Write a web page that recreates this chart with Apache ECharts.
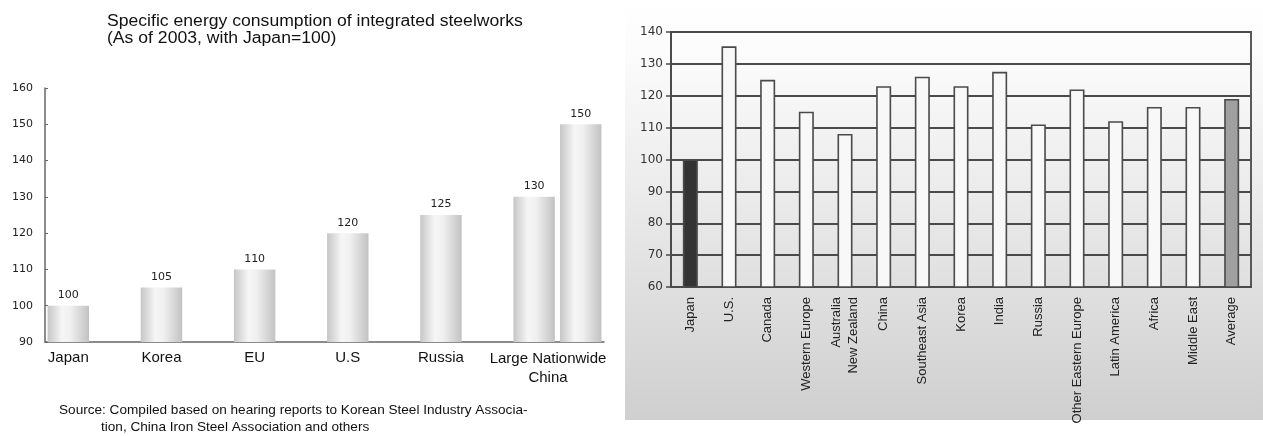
<!DOCTYPE html>
<html>
<head>
<meta charset="utf-8">
<script src="https://cdn.jsdelivr.net/npm/echarts@6/dist/echarts.min.js"></script>
<style>
  html, body { margin: 0; padding: 0; background: #ffffff; }
  #chart { width: 1263px; height: 436px; }
</style>
</head>
<body>
<div id="chart"></div>
<script>
// Left panel: specific energy consumption of integrated steelworks (Japan = 100)
const leftCategories = ['Japan', '', 'Korea', '', 'EU', '', 'U.S', '', 'Russia', '', 'Large', 'Nationwide'];
const leftValues = [100, '-', 105, '-', 110, '-', 120, '-', 125, '-', 130, 150];
const leftTicks = { min: 90, max: 160, step: 10 };

// Right panel: energy consumption index by region (Japan = 100)
const rightCategories = ['Japan', 'U.S.', 'Canada', 'Western Europe', 'Australia\nNew Zealand', 'China',
  'Southeast Asia', 'Korea', 'India', 'Russia', 'Other Eastern Europe', 'Latin America', 'Africa',
  'Middle East', 'Average'];
const rightValues = [100, 135.5, 125, 115, 108, 123, 126, 123, 127.5, 111, 122, 112, 116.5, 116.5, 119];
const rightTicks = { min: 60, max: 140, step: 10 };

const chart = echarts.init(document.getElementById('chart'), null, { renderer: 'canvas' });

const sans = 'Liberation Sans, Arial, sans-serif';
const digits = 'DejaVu Sans, sans-serif';

// Bar fill for the left panel: rounded, cylinder-like shading
const cylinder = new echarts.graphic.LinearGradient(0, 0, 1, 0, [
  { offset: 0, color: '#c6c6c6' },
  { offset: 0.35, color: '#f6f6f6' },
  { offset: 0.55, color: '#f0f0f0' },
  { offset: 1, color: '#c2c2c2' }
]);

const specialFill = { 'Japan': '#333333', 'Average': '#a0a0a0' };
const rightData = rightValues.map((v, i) => ({
  value: v,
  itemStyle: { color: specialFill[rightCategories[i]] || '#f8f8f8' }
}));

const option = {
  animation: false,
  graphic: [
    {
      type: 'rect',
      left: 625, top: 0, z: -10,
      shape: { width: 638, height: 420 },
      style: {
        fill: new echarts.graphic.LinearGradient(0, 0, 0, 1, [
          { offset: 0, color: '#ffffff' },
          { offset: 0.14, color: '#fbfbfb' },
          { offset: 0.5, color: '#e9e9e9' },
          { offset: 1, color: '#cfcfcf' }
        ])
      }
    },
    {
      type: 'text', x: 107, y: 13, scaleX: 1.1,
      style: {
        text: 'Specific energy consumption of integrated steelworks\n(As of 2003, with Japan=100)',
        font: '16px ' + sans, fill: '#111', lineHeight: 17
      }
    },
    {
      type: 'text', x: 548, y: 349,
      style: {
        text: 'Large Nationwide\nChina', font: '15px ' + sans, fill: '#111',
        textAlign: 'center', lineHeight: 19
      }
    },
    {
      type: 'text', x: 59, y: 410,
      style: {
        text: 'Source: Compiled based on hearing reports to Korean Steel Industry Associa-',
        font: '13.6px ' + sans, fill: '#111', textVerticalAlign: 'middle'
      }
    },
    {
      type: 'text', x: 101, y: 427,
      style: {
        text: 'tion, China Iron Steel Association and others',
        font: '13.6px ' + sans, fill: '#111', textVerticalAlign: 'middle'
      }
    }
  ],
  grid: [
    { left: 45, top: 88, width: 559, height: 254, containLabel: false },
    { left: 671, top: 32, width: 580, height: 255, containLabel: false,
      show: true, borderColor: '#4a4a4a', borderWidth: 1.8, backgroundColor: 'transparent' }
  ],
  xAxis: [
    {
      type: 'category', gridIndex: 0, data: leftCategories,
      axisLine: { lineStyle: { color: '#666', width: 1.5 } },
      axisTick: { length: 3, lineStyle: { color: '#666' } },
      axisLabel: {
        interval: 0, margin: 8, color: '#111', fontFamily: sans, fontSize: 15,
        formatter: (name) => (name === 'Large' || name === 'Nationwide') ? '' : name
      }
    },
    {
      type: 'category', gridIndex: 1, data: rightCategories,
      axisLine: { lineStyle: { color: '#4a4a4a', width: 1.8 } },
      axisTick: { length: 4, lineStyle: { color: '#4a4a4a', width: 1.5 } },
      axisLabel: {
        interval: 0, rotate: 90, margin: 10, color: '#222', fontFamily: sans, fontSize: 13,
        lineHeight: 17
      }
    }
  ],
  yAxis: [
    {
      type: 'value', gridIndex: 0, min: leftTicks.min, max: leftTicks.max, interval: leftTicks.step,
      axisLine: { show: true, lineStyle: { color: '#666', width: 1.5 } },
      axisTick: { show: true, inside: true, length: 3, lineStyle: { color: '#666' } },
      axisLabel: { margin: 12, color: '#222', fontFamily: digits, fontSize: 11 },
      splitLine: { show: false }
    },
    {
      type: 'value', gridIndex: 1, min: rightTicks.min, max: rightTicks.max, interval: rightTicks.step,
      axisLine: { show: true, lineStyle: { color: '#4a4a4a', width: 1.8 } },
      axisTick: { show: true, length: 5, lineStyle: { color: '#4a4a4a', width: 1.5 } },
      axisLabel: { margin: 8, color: '#333', fontFamily: digits, fontSize: 12 },
      splitLine: { show: true, lineStyle: { color: '#4a4a4a', width: 1.8 } }
    }
  ],
  series: [
    {
      type: 'bar', xAxisIndex: 0, yAxisIndex: 0, data: leftValues,
      barWidth: '89%',
      itemStyle: { color: cylinder },
      label: {
        show: true, position: 'top', distance: 5,
        color: '#222', fontFamily: digits, fontSize: 11
      }
    },
    {
      type: 'bar', xAxisIndex: 1, yAxisIndex: 1, data: rightData,
      barWidth: 15,
      itemStyle: { borderColor: '#4a4a4a', borderWidth: 1.6 }
    }
  ]
};

chart.setOption(option);
</script>
</body>
</html>
